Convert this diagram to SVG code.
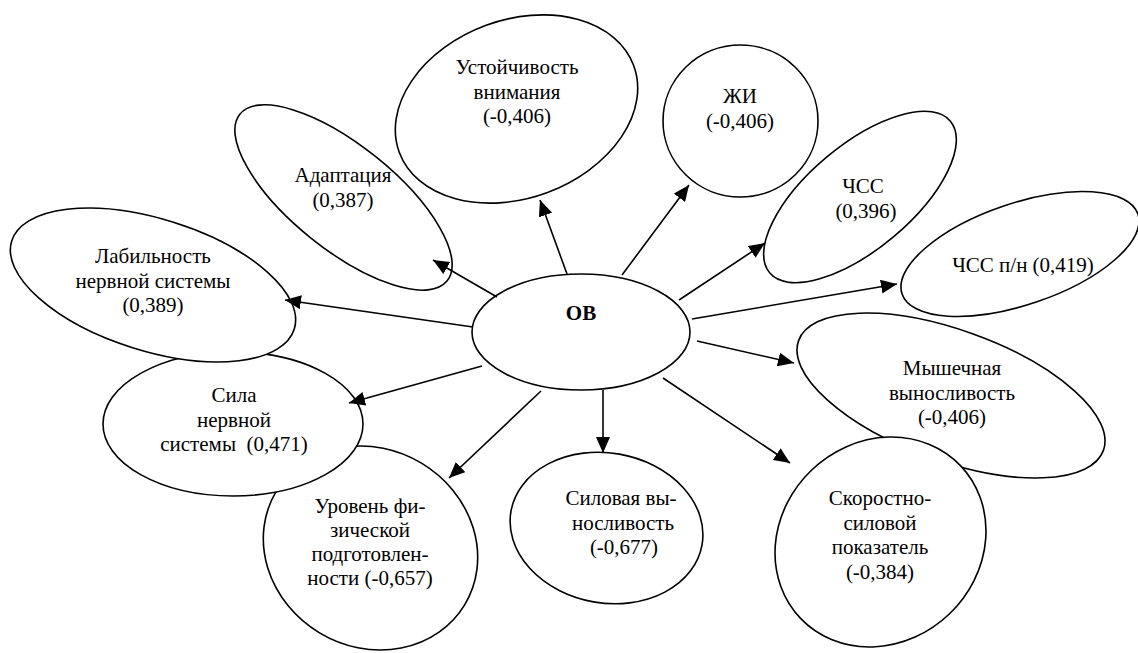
<svg xmlns="http://www.w3.org/2000/svg" width="1138" height="653" viewBox="0 0 1138 653">
  <style>
    .node { fill: #ffffff; stroke: #000000; stroke-width: 1.6; }
    .lbl { font-family: "Liberation Serif", "Times New Roman", serif; font-size: 21px; fill: #000000; text-anchor: middle; white-space: pre; }
    .hub { font-weight: bold; }
    .edge { stroke: #000000; stroke-width: 1.6; fill: none; marker-end: url(#arrow); }
  </style>
  <defs>
    <marker id="arrow" viewBox="0 0 16 14" refX="16" refY="7" markerWidth="16" markerHeight="14" markerUnits="userSpaceOnUse" orient="auto">
      <path d="M0,0 L16,7 L0,14 z" fill="#000000"/>
    </marker>
  </defs>

  <!-- outer factors (drawn back to front where they overlap) -->
  <g id="uroven">
    <ellipse class="node" cx="370.5" cy="548" rx="110" ry="99" transform="rotate(31 370.5 548)"/>
    <text class="lbl" x="370" y="513"><tspan x="370">Уровень фи-</tspan><tspan x="370" dy="24">зической</tspan><tspan x="370" dy="24">подготовлен-</tspan><tspan x="370" dy="24">ности (-0,657)</tspan></text>
  </g>

  <g id="sila">
    <ellipse class="node" cx="233" cy="424" rx="130" ry="72"/>
    <text class="lbl" x="234" y="402"><tspan x="234">Сила</tspan><tspan x="234" dy="24.5">нервной</tspan><tspan x="234" dy="24.5">системы  (0,471)</tspan></text>
  </g>

  <g id="labilnost">
    <ellipse class="node" cx="153" cy="285" rx="148" ry="66" transform="rotate(17.3 153 285)"/>
    <text class="lbl" x="153" y="263"><tspan x="153">Лабильность</tspan><tspan x="153" dy="24.5">нервной системы</tspan><tspan x="153" dy="24.5">(0,389)</tspan></text>
  </g>

  <g id="adaptaciya">
    <ellipse class="node" cx="343.5" cy="197.5" rx="133" ry="52" transform="rotate(38.8 343.5 197.5)"/>
    <text class="lbl" x="343" y="182"><tspan x="343">Адаптация</tspan><tspan x="343" dy="24.5">(0,387)</tspan></text>
  </g>

  <g id="ustoichivost">
    <ellipse class="node" cx="516.5" cy="109" rx="125" ry="89" transform="rotate(-20.4 516.5 109)"/>
    <text class="lbl" x="517" y="74"><tspan x="517">Устойчивость</tspan><tspan x="517" dy="24.5">внимания</tspan><tspan x="517" dy="24.5">(-0,406)</tspan></text>
  </g>

  <g id="zhi">
    <ellipse class="node" cx="740.5" cy="121" rx="77.5" ry="76"/>
    <text class="lbl" x="740" y="103"><tspan x="740">ЖИ</tspan><tspan x="740" dy="24.5">(-0,406)</tspan></text>
  </g>

  <g id="chss">
    <ellipse class="node" cx="860" cy="197" rx="118" ry="52" transform="rotate(-40 860 197)"/>
    <text class="lbl" x="865" y="193"><tspan x="863">ЧСС</tspan><tspan x="866" dy="24.5">(0,396)</tspan></text>
  </g>

  <g id="chss-pn">
    <ellipse class="node" cx="1020" cy="254" rx="124.5" ry="50.7" transform="rotate(-18.7 1020 254)"/>
    <text class="lbl" x="1023" y="272">ЧСС п/н (0,419)</text>
  </g>

  <g id="myshechnaya">
    <ellipse class="node" cx="951" cy="395.5" rx="162" ry="65.4" transform="rotate(19.8 951 395.5)"/>
    <text class="lbl" x="952" y="375"><tspan x="952">Мышечная</tspan><tspan x="952" dy="24.5">выносливость</tspan><tspan x="952" dy="24.5">(-0,406)</tspan></text>
  </g>

  <g id="skorostno">
    <ellipse class="node" cx="880.5" cy="542" rx="110.6" ry="99.6" transform="rotate(-43.7 880.5 542)"/>
    <text class="lbl" x="880" y="505"><tspan x="880">Скоростно-</tspan><tspan x="880" dy="24.5">силовой</tspan><tspan x="880" dy="24.5">показатель</tspan><tspan x="880" dy="24.5">(-0,384)</tspan></text>
  </g>

  <g id="silovaya">
    <ellipse class="node" cx="606.5" cy="528" rx="97" ry="75" transform="rotate(10 606.5 528)"/>
    <text class="lbl" x="622" y="505"><tspan x="621">Силовая вы-</tspan><tspan x="623" dy="24.5">носливость</tspan><tspan x="624" dy="24.5">(-0,677)</tspan></text>
  </g>

  <!-- central node -->
  <g id="ov">
    <ellipse class="node" cx="581" cy="332" rx="109" ry="58"/>
    <text class="lbl hub" x="581" y="320">ОВ</text>
  </g>

  <!-- connectors from ОВ -->
  <g id="connectors">
    <line class="edge" x1="497" y1="297" x2="433" y2="260"/>
    <line class="edge" x1="567" y1="274" x2="540" y2="200"/>
    <line class="edge" x1="622" y1="275" x2="689" y2="185"/>
    <line class="edge" x1="679" y1="300" x2="765" y2="243"/>
    <line class="edge" x1="692" y1="319" x2="897" y2="284"/>
    <line class="edge" x1="697" y1="341" x2="794" y2="363"/>
    <line class="edge" x1="663" y1="378" x2="790" y2="463"/>
    <line class="edge" x1="603" y1="390" x2="603" y2="453"/>
    <line class="edge" x1="541" y1="391" x2="449" y2="478"/>
    <line class="edge" x1="482" y1="366" x2="349" y2="403"/>
    <line class="edge" x1="473" y1="327" x2="285" y2="300"/>
  </g>
</svg>
